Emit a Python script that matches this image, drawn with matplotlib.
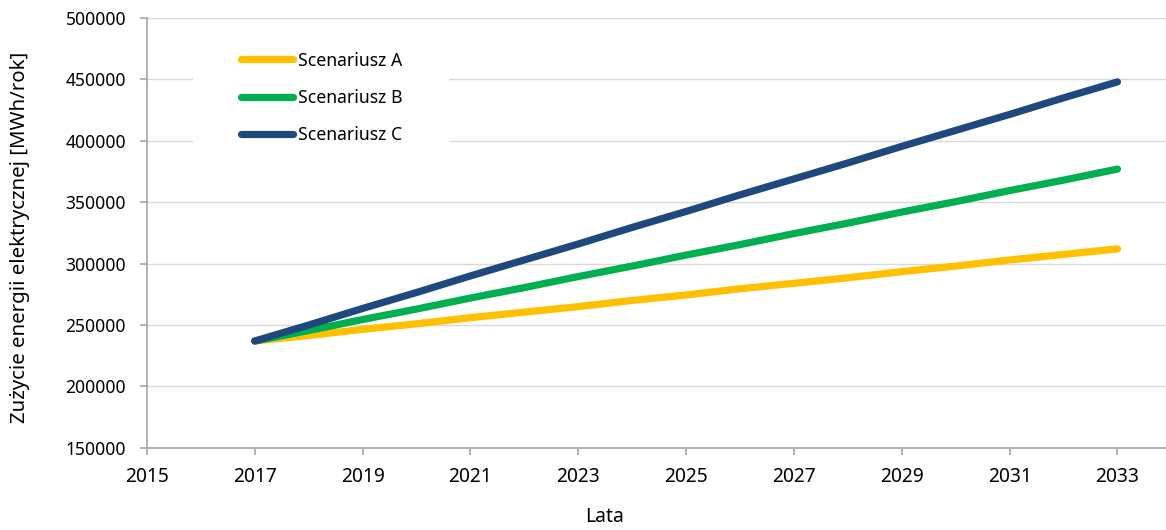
import matplotlib.pyplot as plt
from matplotlib.patches import Rectangle

plt.rcParams['font.family'] = ['Noto Sans', 'DejaVu Sans']

# Zużycie energii elektrycznej w scenariuszach A, B, C
lata = [2017, 2018, 2019, 2020, 2021, 2022, 2023, 2024, 2025,
        2026, 2027, 2028, 2029, 2030, 2031, 2032, 2033]
scen_a = [237000, 241500, 246500, 251000, 256000, 260500, 265000, 270000, 274500,
          279500, 284000, 288500, 293500, 298000, 303000, 307500, 312000]
scen_b = [237000, 245500, 254500, 263000, 272000, 280500, 289500, 298000, 307000,
          315500, 324500, 333000, 342000, 350500, 359500, 368000, 377000]
scen_c = [237000, 250000, 263500, 276500, 290000, 303000, 316000, 329500, 342500,
          356000, 369000, 382000, 395500, 408500, 421500, 435000, 448000]

nazwy = ["Scenariusz A", "Scenariusz B", "Scenariusz C"]
kolory = ["#FFC000", "#00B050", "#1F497D"]

x_ticks = list(range(2015, 2034, 2))
y_ticks = list(range(150000, 500001, 50000))

fig = plt.figure(figsize=(11.66, 5.30), dpi=100)
ax = fig.add_axes([0.126, 0.155, 0.874, 0.811])

for seria, nazwa, kolor in zip([scen_a, scen_b, scen_c], nazwy, kolory):
    ax.plot(lata, seria, color=kolor, lw=5.2, solid_capstyle='round', label=nazwa, zorder=3)

ax.set_xlim(2015, 2033.9)
ax.set_ylim(150000, 500000)
ax.set_xticks(x_ticks)
ax.set_yticks(y_ticks)
ax.yaxis.grid(True, color='#D9D9D9', lw=1)
ax.set_axisbelow(True)

for s in ['top', 'right']:
    ax.spines[s].set_visible(False)
for s in ['left', 'bottom']:
    ax.spines[s].set_color('#A6A6A6')
    ax.spines[s].set_linewidth(1.2)
ax.tick_params(axis='both', colors='#A6A6A6', labelcolor='black',
               length=5, width=1.2, direction='out')
ax.tick_params(axis='x', labelsize=13.8, pad=9)
ax.tick_params(axis='y', labelsize=12.6, pad=10)

ax.set_xlabel("Lata", fontsize=14)
ax.xaxis.label.set_va('center')
ax.xaxis.set_label_coords(0.449, -0.160)
ax.set_ylabel("Zużycie energii elektrycznej [MWh/rok]", fontsize=14.7)
ax.yaxis.label.set_va('center')
ax.yaxis.set_label_coords(-0.1246, 0.49)

# białe tło pod legendą (zasłania siatkę)
ax.add_patch(Rectangle((0.045, 0.65), 0.251, 0.32, transform=ax.transAxes,
                       facecolor='white', edgecolor='none', zorder=1))

leg = ax.legend(loc='upper left', bbox_to_anchor=(0.0927, 0.922), fontsize=12.7,
                frameon=False, handlelength=2.95, handletextpad=0.25,
                labelspacing=1.1, borderpad=0, borderaxespad=0)
for h in leg.get_lines():
    h.set_linewidth(5.2)
    h.set_solid_capstyle('round')

fig.savefig("out.png", dpi=100)
